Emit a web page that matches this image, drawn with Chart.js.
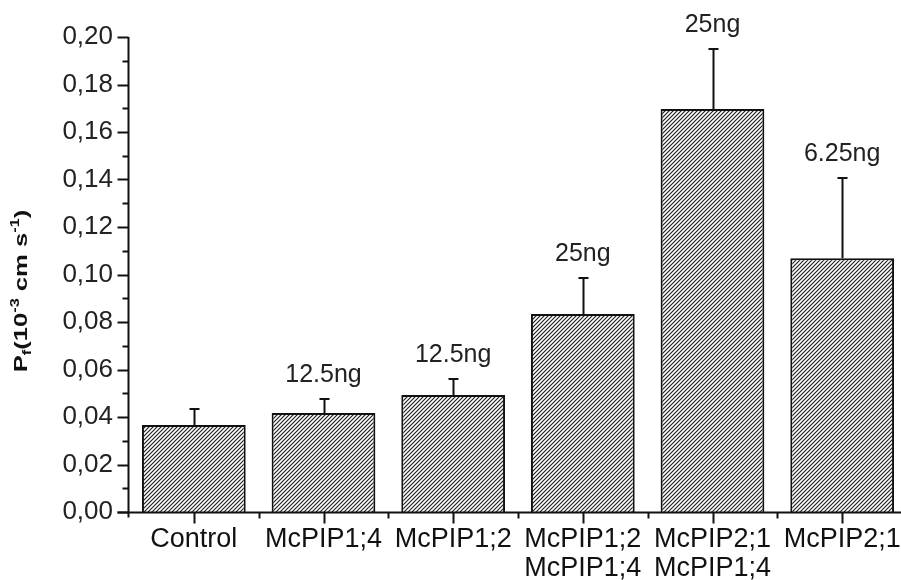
<!DOCTYPE html>
<html>
<head>
<meta charset="utf-8">
<script src="https://cdn.jsdelivr.net/npm/chart.js@4"></script>
<style>
  html, body { margin: 0; padding: 0; background: #fff; overflow: hidden; }
  #wrap { width: 910px; height: 580px; }
</style>
</head>
<body>
<div id="wrap"><canvas id="c" width="910" height="580"></canvas></div>
<script>
const categories = ['Control', 'McPIP1;4', 'McPIP1;2', ['McPIP1;2', 'McPIP1;4'], ['McPIP2;1', 'McPIP1;4'], 'McPIP2;1'];
const meanValues = [0.0366, 0.0417, 0.0493, 0.0834, 0.1697, 0.1068];
const errorTops = [0.0434, 0.0476, 0.0560, 0.0985, 0.1950, 0.1406];
const doseLabels = ['', '12.5ng', '12.5ng', '25ng', '25ng', '6.25ng'];
const yTicks = [0, 0.02, 0.04, 0.06, 0.08, 0.10, 0.12, 0.14, 0.16, 0.18, 0.20];

const FONT = '"Liberation Sans", Arial, sans-serif';
const INK = '#111';

// hatch fill "////"
function hatch() {
    const n = 4;
    const p = document.createElement('canvas');
    p.width = n; p.height = n;
    const g = p.getContext('2d');
    g.fillStyle = '#fff';
    g.fillRect(0, 0, n, n);
    g.strokeStyle = '#222';
    g.lineWidth = 1.2;
    g.beginPath();
    g.moveTo(-1, n + 1); g.lineTo(n + 1, -1);
    g.moveTo(-1, 1); g.lineTo(1, -1);
    g.moveTo(n - 1, n + 1); g.lineTo(n + 1, n - 1);
    g.stroke();
    return document.getElementById('c').getContext('2d').createPattern(p, 'repeat');
}

const extras = {
    id: 'extras',
    afterDatasetsDraw(chart) {
        const ctx = chart.ctx;
        const x = chart.scales.x, y = chart.scales.y;
        const area = chart.chartArea;
        ctx.save();
        ctx.strokeStyle = INK;
        ctx.lineWidth = 2;

        // error bars (upper only)
        meanValues.forEach((v, i) => {
            const cx = Math.round(x.getPixelForValue(i)) + 0.5;
            const y0 = y.getPixelForValue(v);
            const y1 = y.getPixelForValue(errorTops[i]);
            ctx.beginPath();
            ctx.moveTo(cx, y0);
            ctx.lineTo(cx, y1);
            ctx.moveTo(cx - 5, y1);
            ctx.lineTo(cx + 5, y1);
            ctx.stroke();
        });

        // dose labels
        ctx.fillStyle = '#222';
        ctx.font = '25px ' + FONT;
        ctx.textAlign = 'center';
        ctx.textBaseline = 'middle';
        doseLabels.forEach((t, i) => {
            if (!t) return;
            ctx.fillText(t, x.getPixelForValue(i), y.getPixelForValue(errorTops[i]) - 24);
        });

        // axes lines
        const left = Math.round(area.left) - 0.5;
        const bottom = Math.round(area.bottom) + 0.5;
        ctx.beginPath();
        ctx.moveTo(left, y.getPixelForValue(0.20));
        ctx.lineTo(left, bottom + 5);
        ctx.moveTo(left - 11, bottom);
        ctx.lineTo(area.right + 5, bottom);
        ctx.stroke();

        // y ticks major/minor
        for (let k = 0; k <= 20; k++) {
            const py = Math.round(y.getPixelForValue(k / 100)) + 0.5;
            const len = k % 2 === 0 ? 11 : 6;
            ctx.beginPath();
            ctx.moveTo(left - len, py);
            ctx.lineTo(left, py);
            ctx.stroke();
        }
        // x ticks: major at centers, minor at boundaries
        const step = x.getPixelForValue(1) - x.getPixelForValue(0);
        categories.forEach((c, i) => {
            const px = Math.round(x.getPixelForValue(i)) + 0.5;
            ctx.beginPath();
            ctx.moveTo(px, bottom);
            ctx.lineTo(px, bottom + 11);
            ctx.stroke();
            const bx = Math.round(x.getPixelForValue(i) + step / 2) + 0.5;
            ctx.beginPath();
            ctx.moveTo(bx, bottom);
            ctx.lineTo(bx, bottom + 6);
            ctx.stroke();
        });

        // y axis title: P_f(10^-3 cm s^-1)
        ctx.translate(27, 291);
        ctx.rotate(-Math.PI / 2);
        ctx.scale(1.35, 1);
        ctx.fillStyle = INK;
        ctx.textAlign = 'left';
        ctx.textBaseline = 'alphabetic';
        const parts = [
            ['P', 0, 19], ['f', 4, 12], ['(10', 0, 19], ['-3', -8, 12],
            [' cm s', 0, 19], ['-1', -8, 12], [')', 0, 19]
        ];
        let w = 0;
        parts.forEach(p => { ctx.font = 'bold ' + p[2] + 'px ' + FONT; w += ctx.measureText(p[0]).width; });
        let px = -w / 2;
        parts.forEach(p => {
            ctx.font = 'bold ' + p[2] + 'px ' + FONT;
            ctx.fillText(p[0], px, p[1]);
            px += ctx.measureText(p[0]).width;
        });
        ctx.restore();
    }
};

new Chart(document.getElementById('c'), {
    type: 'bar',
    data: {
        labels: categories,
        datasets: [{
            data: meanValues,
            backgroundColor: hatch(),
            borderColor: INK,
            borderWidth: 2,
            barPercentage: 0.8,
            categoryPercentage: 1.0
        }]
    },
    options: {
        responsive: false,
        animation: false,
        layout: { padding: { top: 37, right: 3, left: 0, bottom: 0 } },
        plugins: { legend: { display: false }, tooltip: { enabled: false } },
        scales: {
            y: {
                min: 0,
                max: 0.20,
                afterBuildTicks: (s) => { s.ticks = yTicks.map(v => ({ value: v })); },
                afterFit: (s) => { s.width = 129; },
                border: { display: false },
                grid: { display: false },
                ticks: {
                    color: '#222',
                    padding: 8,
                    font: { family: FONT, size: 26 },
                    callback: (v) => v.toFixed(2).replace('.', ',')
                }
            },
            x: {
                afterFit: (s) => { s.height = 68; },
                border: { display: false },
                grid: { display: false },
                ticks: {
                    color: INK,
                    padding: 5,
                    maxRotation: 0,
                    autoSkip: false,
                    font: { family: FONT, size: 27, lineHeight: 1.08 }
                }
            }
        }
    },
    plugins: [extras]
});
</script>
</body>
</html>
